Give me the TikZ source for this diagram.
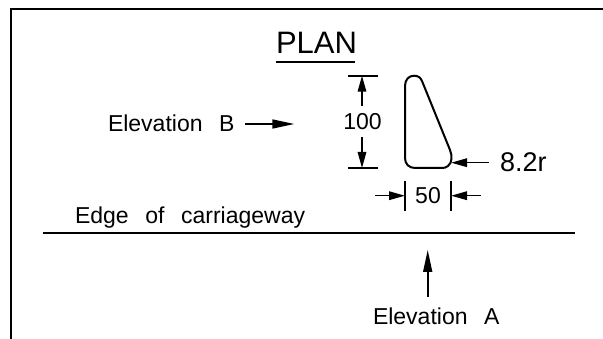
\documentclass[tikz,border=0pt]{standalone}
\usepackage{fontspec}
\setmainfont{Liberation Sans}
\newfontfamily\cadfont[WordSpace=2.6]{Liberation Sans}
\usetikzlibrary{arrows.meta}
\tikzset{
  x=1pt,y=-1pt,
  cad/.style={line width=2pt,draw=black,line cap=butt},
  thinline/.style={line width=1.8pt,draw=black},
  arrowline/.style={line width=1.6pt,draw=black,-{Triangle[length=16pt,width=8.5pt]}},
  longarrow/.style={line width=1.6pt,draw=black,-{Triangle[length=22pt,width=9pt]}},
  txtlabel/.style={inner sep=0pt,outer sep=0pt,anchor=base west,font=\fontsize{23}{23}\selectfont\cadfont},
  dimlabel/.style={inner sep=0pt,outer sep=0pt,anchor=base,font=\fontsize{23}{23}\selectfont},
}
\begin{document}
\begin{tikzpicture}
\useasboundingbox (0,0) rectangle (603,339);
% frame
\coordinate (fb) at (11,339);
\coordinate (fc) at (11,9.5);
\coordinate (fr) at (603,9.5);
\draw[cad] (fb) -- (fc) -- (fr);
% title
\node[txtlabel,font=\fontsize{31}{31}\selectfont] (plan) at (276,54) {PLAN};
\coordinate (ula) at (276,62);
\coordinate (ulb) at (355,62);
\draw[cad] (ula) -- (ulb);
% kerb shape
\draw[cad]
  (405,86) .. controls (405,79.5) and (409,75.7) .. (414,75.7)
  .. controls (418,75.7) and (420.5,77.5) .. (422,81)
  -- (450,150)
  .. controls (452.5,156) and (452,163) .. (448,166)
  .. controls (446.5,167.5) and (444,168) .. (442,168)
  -- (415,168)
  .. controls (409,168) and (405,164) .. (405,158)
  -- cycle;
% 100 dimension
\coordinate (ta) at (347.5,75.7);
\coordinate (tb) at (378,75.7);
\coordinate (ba) at (347.5,168);
\coordinate (bb) at (378,168);
\draw[thinline] (ta) -- (tb);
\draw[thinline] (ba) -- (bb);
\node[dimlabel] (hundred) at (362.5,130) {100};
\coordinate (h1) at (362,106.5);
\coordinate (h2) at (362,75.7);
\coordinate (h3) at (362,137.5);
\coordinate (h4) at (362,168);
\draw[arrowline] (h1) -- (h2);
\draw[arrowline] (h3) -- (h4);
% 50 dimension
\coordinate (la) at (405,180.7);
\coordinate (lb) at (405,210.7);
\coordinate (ra) at (451,180.7);
\coordinate (rb) at (451,210.7);
\draw[thinline] (la) -- (lb);
\draw[thinline] (ra) -- (rb);
\node[dimlabel] (fifty) at (428,203.5) {50};
\coordinate (w1) at (375,195.7);
\coordinate (w2) at (405,195.7);
\coordinate (w3) at (481,195.7);
\coordinate (w4) at (451,195.7);
\draw[arrowline] (w1) -- (w2);
\draw[arrowline] (w3) -- (w4);
% radius
\coordinate (r1) at (489,162.7);
\coordinate (r2) at (451,162.7);
\draw[arrowline] (r1) -- (r2);
\node[txtlabel,font=\fontsize{27}{27}\selectfont] (radius) at (500,171.5) {8.2r};
% elevation B
\node[txtlabel] (elb) at (108,131.7) {Elevation B};
\coordinate (b1) at (245,124);
\coordinate (b2) at (294.3,124);
\draw[longarrow] (b1) -- (b2);
% carriageway
\node[txtlabel] (edge) at (75,223.5) {Edge of carriageway};
\coordinate (c1) at (43,232.7);
\coordinate (c2) at (575,232.7);
\draw[cad] (c1) -- (c2);
% elevation A
\coordinate (a1) at (427.7,297);
\coordinate (a2) at (427.7,250);
\draw[longarrow] (a1) -- (a2);
\node[txtlabel] (ela) at (373,324.5) {Elevation A};
\end{tikzpicture}
\end{document}
